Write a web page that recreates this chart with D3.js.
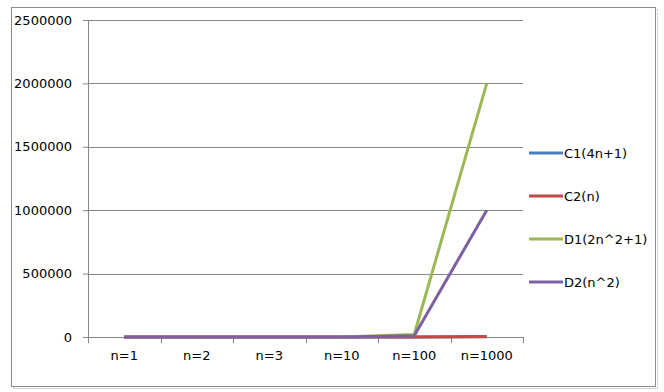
<!DOCTYPE html>
<html>
<head>
<meta charset="utf-8">
<script src="https://cdn.jsdelivr.net/npm/d3@7"></script>
<style>
  body { margin: 0; background: #fff; }
  text { font-family: "DejaVu Sans", sans-serif; font-size: 13px; fill: #000; }
</style>
</head>
<body>
<script>
// categories + series values
var categories = ["n=1", "n=2", "n=3", "n=10", "n=100", "n=1000"];
var c1 = [5, 9, 13, 41, 401, 4001];
var c2 = [1, 2, 3, 10, 100, 1000];
var d1 = [3, 9, 19, 201, 20001, 2000001];
var d2 = [1, 4, 9, 100, 10000, 1000000];
var seriesNames = ["C1(4n+1)", "C2(n)", "D1(2n^2+1)", "D2(n^2)"];
var seriesColors = ["#4a7ebb", "#be4b48", "#98b954", "#7d60a0"];
var yTicks = [0, 500000, 1000000, 1500000, 2000000, 2500000];

var svgWidth = 664;
var svgHeight = 392;

var margin = {top: 20, left: 88};
var width = 523 - margin.left;
var height = 337 - margin.top;

var svg = d3.select("body")
    .append("svg")
    .attr("width", svgWidth)
    .attr("height", svgHeight);

// outer frame
svg.append("rect")
    .attr("x", 13.5).attr("y", 9.5)
    .attr("width", 644).attr("height", 379)
    .attr("fill", "none").attr("stroke", "#d9d9d9");
svg.append("rect")
    .attr("x", 11.5).attr("y", 7.5)
    .attr("width", 644).attr("height", 379)
    .attr("fill", "#fff").attr("stroke", "#8c8c8c");

var chartGroup = svg.append("g")
    .attr("transform", `translate(${margin.left}, ${margin.top})`);

var xScale = d3.scaleBand()
    .domain(categories)
    .range([0, width]);

var yScale = d3.scaleLinear()
    .domain([0, 2500000])
    .range([height, 0]);

// gridlines
chartGroup.append("g")
    .selectAll("line")
    .data(yTicks.slice(1))
    .enter()
    .append("line")
    .attr("x1", 0)
    .attr("x2", width)
    .attr("y1", d => Math.round(yScale(d)) + 0.5)
    .attr("y2", d => Math.round(yScale(d)) + 0.5)
    .attr("stroke", "#868686");

// y axis
var leftAxis = d3.axisLeft(yScale)
    .tickValues(yTicks)
    .tickSize(5)
    .tickPadding(11)
    .tickFormat(d3.format("d"));
var yAxisG = chartGroup.append("g").call(leftAxis);
yAxisG.select(".domain").attr("stroke", "#868686");
yAxisG.selectAll(".tick line").attr("stroke", "#868686");
yAxisG.selectAll("text").style("font-size", "13px").attr("font-family", null);

// x axis (ticks at band boundaries)
var xAxisG = chartGroup.append("g")
    .attr("transform", `translate(0, ${height})`);
xAxisG.append("line")
    .attr("x1", 0).attr("x2", width)
    .attr("y1", 0.5).attr("y2", 0.5)
    .attr("stroke", "#868686");
var bounds = categories.map(c => xScale(c)).concat([width]);
xAxisG.selectAll("line.tk")
    .data(bounds)
    .enter()
    .append("line")
    .attr("class", "tk")
    .attr("x1", d => Math.round(d) + 0.5)
    .attr("x2", d => Math.round(d) + 0.5)
    .attr("y1", 0).attr("y2", 6)
    .attr("stroke", "#868686");
xAxisG.selectAll("text")
    .data(categories)
    .enter()
    .append("text")
    .attr("x", d => xScale(d) + xScale.bandwidth() / 2)
    .attr("y", 23)
    .attr("text-anchor", "middle")
    .text(d => d);

// lines
var allSeries = [c1, c2, d1, d2];
var line = d3.line()
    .x((d, i) => xScale(categories[i]) + xScale.bandwidth() / 2)
    .y(d => yScale(d));

chartGroup.selectAll("path.series")
    .data(allSeries)
    .enter()
    .append("path")
    .attr("class", "series")
    .attr("d", line)
    .attr("fill", "none")
    .attr("stroke", (d, i) => seriesColors[i])
    .attr("stroke-width", 3)
    .attr("stroke-linejoin", "round");

// legend
var legend = svg.append("g")
    .selectAll("g")
    .data(seriesNames)
    .enter()
    .append("g")
    .attr("transform", (d, i) => `translate(529, ${153 + i * 43})`);
legend.append("line")
    .attr("x1", 0).attr("x2", 34)
    .attr("stroke", (d, i) => seriesColors[i])
    .attr("stroke-width", 3);
legend.append("text")
    .attr("x", 35)
    .attr("dy", "0.35em")
    .text(d => d);
</script>
</body>
</html>
